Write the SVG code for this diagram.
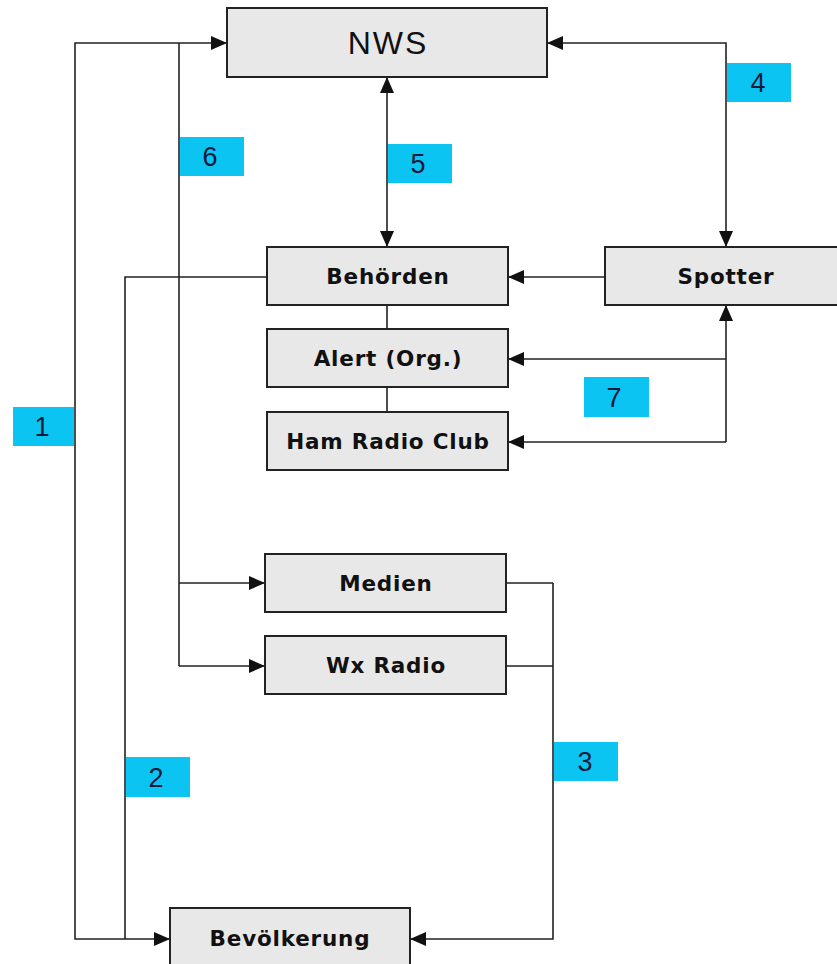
<svg xmlns="http://www.w3.org/2000/svg" width="837" height="964" viewBox="0 0 837 964">
<defs>
<style>
.box{fill:#e8e8e8;stroke:#222;stroke-width:2}
.lbl{font-family:"DejaVu Sans",Verdana,sans-serif;font-weight:bold;font-size:21.5px;letter-spacing:0.8px;fill:#111;text-anchor:middle}
.nws{font-family:"Liberation Sans",Arial,sans-serif;font-size:32px;letter-spacing:2px;fill:#111;text-anchor:middle}
.tag{fill:#0cc4f2}
.num{font-family:"Liberation Sans",Arial,sans-serif;font-size:27px;fill:#111a3a;text-anchor:middle}
.ln{fill:none;stroke:#222;stroke-width:1.6}
</style>
<marker id="ah" viewBox="0 0 16 14" refX="16" refY="7" markerWidth="16" markerHeight="14" markerUnits="userSpaceOnUse" orient="auto-start-reverse">
<path d="M0,0 L16,7 L0,14 z" fill="#111"/>
</marker>
</defs>
<rect width="837" height="964" fill="#fff"/>

<g id="connectors">
<path class="ln" d="M170,939 H75 V43 H227" marker-start="url(#ah)" marker-end="url(#ah)"/>
<path class="ln" d="M179,43 V666"/>
<path class="ln" d="M179,583 H265" marker-end="url(#ah)"/>
<path class="ln" d="M179,666 H265" marker-end="url(#ah)"/>
<path class="ln" d="M547,43 H726 V247" marker-start="url(#ah)" marker-end="url(#ah)"/>
<path class="ln" d="M387,77 V247" marker-start="url(#ah)" marker-end="url(#ah)"/>
<path class="ln" d="M605,277 H508" marker-end="url(#ah)"/>
<path class="ln" d="M726,305 V442" marker-start="url(#ah)"/>
<path class="ln" d="M726,359 H508" marker-end="url(#ah)"/>
<path class="ln" d="M726,442 H508" marker-end="url(#ah)"/>
<path class="ln" d="M387,305 V329 M387,387 V412"/>
<path class="ln" d="M267,277 H125 V939"/>
<path class="ln" d="M506,583 H553 M506,666 H553"/>
<path class="ln" d="M553,583 V939 H410" marker-end="url(#ah)"/>
</g>

<g id="nws"><rect class="box" x="227" y="8" width="320" height="69"/><text class="nws" x="388" y="54">NWS</text></g>
<g id="behoerden"><rect class="box" x="267" y="247" width="241" height="58"/><text class="lbl" x="388" y="284">Behörden</text></g>
<g id="spotter"><rect class="box" x="605" y="247" width="241" height="58"/><text class="lbl" x="726" y="284">Spotter</text></g>
<g id="alert"><rect class="box" x="267" y="329" width="241" height="58"/><text class="lbl" x="388" y="366">Alert (Org.)</text></g>
<g id="ham"><rect class="box" x="267" y="412" width="241" height="58"/><text class="lbl" x="388" y="449">Ham Radio Club</text></g>
<g id="medien"><rect class="box" x="265" y="554" width="241" height="58"/><text class="lbl" x="386" y="591">Medien</text></g>
<g id="wxradio"><rect class="box" x="265" y="636" width="241" height="58"/><text class="lbl" x="386" y="673">Wx Radio</text></g>
<g id="bevoelkerung"><rect class="box" x="170" y="908" width="240" height="62"/><text class="lbl" x="290" y="946">Bevölkerung</text></g>

<g id="tag1"><rect class="tag" x="13" y="407" width="61" height="39"/><text class="num" x="42" y="436">1</text></g>
<g id="tag2"><rect class="tag" x="126" y="757" width="64" height="40"/><text class="num" x="156" y="787">2</text></g>
<g id="tag3"><rect class="tag" x="554" y="742" width="64" height="39"/><text class="num" x="585" y="771">3</text></g>
<g id="tag4"><rect class="tag" x="727" y="63" width="64" height="39"/><text class="num" x="758" y="92">4</text></g>
<g id="tag5"><rect class="tag" x="388" y="144" width="64" height="39"/><text class="num" x="418" y="173">5</text></g>
<g id="tag6"><rect class="tag" x="180" y="137" width="64" height="39"/><text class="num" x="210" y="166">6</text></g>
<g id="tag7"><rect class="tag" x="584" y="377" width="65" height="40"/><text class="num" x="614" y="407">7</text></g>
</svg>
